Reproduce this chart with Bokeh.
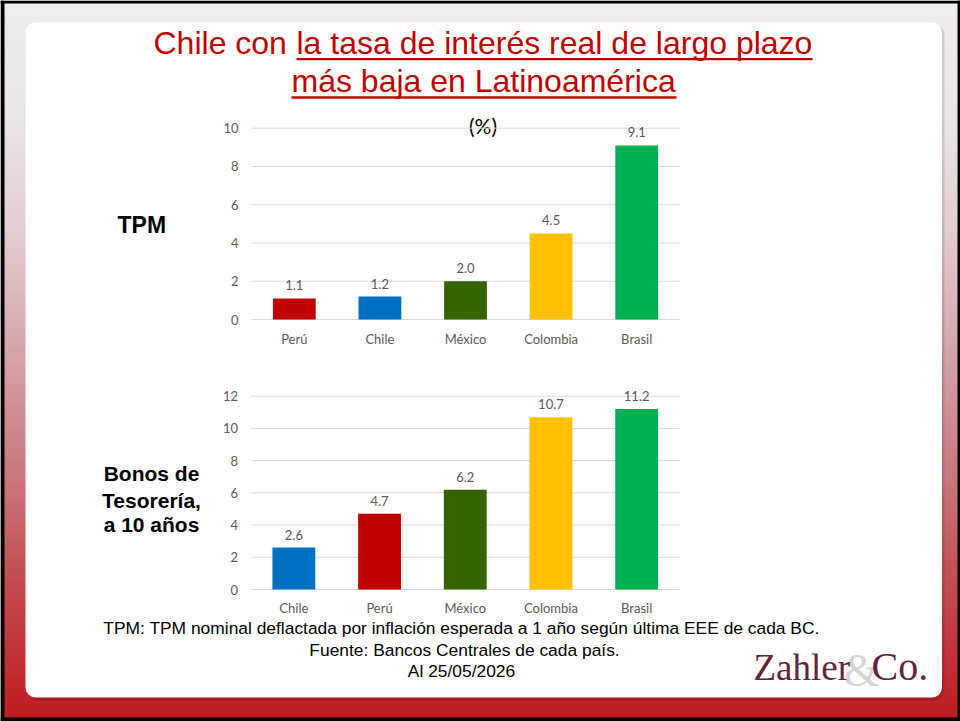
import numpy as np
from bokeh.plotting import figure
from bokeh.models import Range1d, BoxAnnotation
from bokeh.core.properties import value
from bokeh.embed import file_html
from bokeh.resources import INLINE

# ---------------- data ----------------
tpm_countries = ["Perú", "Chile", "México", "Colombia", "Brasil"]
tpm_values = [1.1, 1.2, 2.0, 4.5, 9.1]
tpm_ticks = [0, 2, 4, 6, 8, 10]

bonos_countries = ["Chile", "Perú", "México", "Colombia", "Brasil"]
bonos_values = [2.6, 4.7, 6.2, 10.7, 11.2]
bonos_ticks = [0, 2, 4, 6, 8, 10, 12]

country_colors = {
    "Perú": "#C00000",
    "Chile": "#0070C0",
    "México": "#376200",
    "Colombia": "#FFC000",
    "Brasil": "#00B050",
}

title_line1a = "Chile con"
title_line1b = "la tasa de interés real de largo plazo"
title_line2 = "más baja en Latinoamérica"
unit_label = "(%)"
tpm_label = "TPM"
bonos_label = ["Bonos de", "Tesorería,", "a 10 años"]
footnotes = [
    "TPM: TPM nominal deflactada por inflación esperada a 1 año según última EEE de cada BC.",
    "Fuente: Bancos Centrales de cada país.",
    "Al 25/05/2026",
]

# ---------------- layout (page pixels) ----------------
W, H = 960, 721


def Y(py):
    """page pixel row -> data y (upwards)"""
    return H - py


p = figure(
    width=W, height=H,
    x_range=Range1d(0, W), y_range=Range1d(0, H),
    output_backend="svg", toolbar_location=None,
    x_axis_type=None, y_axis_type=None, min_border=0,
)
p.grid.visible = False
p.outline_line_color = None
p.background_fill_color = "white"
p.border_fill_color = "white"

# background gradient (decoration)
stops_y = [0, 25, 120, 220, 320, 420, 500, 580, 650, 721]
stops_c = ["#F1EFEF", "#EFEBEB", "#ECE5E6", "#E3D0D2", "#D9B0B4", "#CE8C91",
           "#C86E74", "#C44D53", "#C2353A", "#BF1C20"]
rows = np.arange(0, H) + 0.5
rgb = np.array([[int(c[i:i + 2], 16) for i in (1, 3, 5)] for c in stops_c], dtype=float)
img = np.zeros((H, 1), dtype=np.uint32)
view = img.view(dtype=np.uint8).reshape((H, 1, 4))
for ch in range(3):
    col = np.interp(rows, stops_y, rgb[:, ch])
    view[:, 0, ch] = col[::-1].astype(np.uint8)
view[:, 0, 3] = 255
p.image_rgba(image=[img], x=0, y=0, dw=W, dh=H, level="image")

# white rounded panel with faint shadow
p.add_layout(BoxAnnotation(left=27, right=944, top=Y(24), bottom=Y(700),
                           fill_color="black", fill_alpha=0.12, line_alpha=0,
                           border_radius=10, level="underlay"))
p.add_layout(BoxAnnotation(left=25, right=941.5, top=Y(22), bottom=Y(697),
                           fill_color="white", fill_alpha=1, line_alpha=0,
                           border_radius=10, level="underlay"))
# black slide border
p.quad(left=[0, 957, 0, 0], right=[4, 960, 960, 960],
       bottom=[0, 0, Y(3), 0], top=[H, H, H, Y(717)],
       fill_color="black", line_color=None)

ARIAL = value("Liberation Sans")
LATO = value("Lato")
SERIF = value("Liberation Serif")
GRAY = "#595959"
RED = "#C00000"


def mid(baseline, size, k=0.35):
    """text centre for a wanted baseline"""
    return Y(baseline - k * size)


# ---------------- title ----------------
p.text(x=[153], y=[mid(53.5, 32)], text=[title_line1a], text_font=ARIAL, text_font_size="32px",
       text_color=RED, text_align="left", text_baseline="middle")
p.text(x=[296], y=[mid(53.5, 32)], text=[title_line1b], text_font=ARIAL, text_font_size="32px",
       text_color=RED, text_align="left", text_baseline="middle")
p.text(x=[291], y=[mid(92, 32)], text=[title_line2], text_font=ARIAL, text_font_size="32px",
       text_color=RED, text_align="left", text_baseline="middle")
p.segment(x0=[296, 291], x1=[812, 676], y0=[Y(58.7), Y(97)], y1=[Y(58.7), Y(97)],
          line_color=RED, line_width=2.3)

p.text(x=[482.5], y=[Y(125)], text=[unit_label], text_font=LATO, text_font_size="21px",
       text_color="black", text_align="center", text_baseline="middle")

# side labels
p.text(x=[117], y=[mid(232.7, 23)], text=[tpm_label], text_font=ARIAL, text_font_size="23px",
       text_font_style="bold", text_color="black", text_align="left", text_baseline="middle")
p.text(x=[151] * 3, y=[mid(480.7, 21), mid(507, 21), mid(531.7, 21)], text=bonos_label,
       text_font=ARIAL, text_font_size="21px", text_font_style="bold", text_color="black",
       text_align="center", text_baseline="middle")

# footnotes
p.text(x=[461, 464, 461], y=[mid(634, 17.4), mid(656, 17.4), mid(677, 17.4)], text=footnotes,
       text_font=ARIAL, text_font_size="17.4px", text_color="black", text_align="center",
       text_baseline="middle")

# logo
p.text(x=[843], y=[mid(686, 46)], text=["&"], text_font=SERIF, text_font_size="46px",
       text_color="#D6D4D4", text_align="left", text_baseline="middle")
p.text(x=[753], y=[mid(680, 37)], text=["Zahler"], text_font=SERIF,
       text_font_size="37px", text_color="#62243A", text_align="left", text_baseline="middle")
p.text(x=[871], y=[mid(680, 40)], text=["Co."], text_font=SERIF,
       text_font_size="40px", text_color="#62243A", text_align="left", text_baseline="middle")


# ---------------- bar charts ----------------
def bar_chart(name, countries, values, ticks, left, right, y0, ytop, cat_off):
    n = len(countries)
    step = (right - left) / n
    k = (y0 - ytop) / ticks[-1]
    p.extra_x_ranges[name + "_x"] = Range1d(-left / step - 0.5, (W - left) / step - 0.5)
    p.extra_y_ranges[name + "_y"] = Range1d((y0 - H) / k, y0 / k)
    rx, ry = name + "_x", name + "_y"
    idx = list(range(n))
    # gridlines
    p.segment(x0=[-0.5] * len(ticks), x1=[n - 0.5] * len(ticks), y0=ticks, y1=ticks,
              line_color="#D9D9D9", line_width=1, x_range_name=rx, y_range_name=ry)
    # tick labels
    p.text(x=[-0.5] * len(ticks), y=ticks, text=[str(t) for t in ticks], x_offset=-13,
           text_font=LATO, text_font_size="13px", text_color=GRAY, text_align="right",
           text_baseline="middle", x_range_name=rx, y_range_name=ry)
    # bars
    p.vbar(x=idx, top=values, bottom=0, width=0.5, fill_color=[country_colors[c] for c in countries],
           line_color=None, x_range_name=rx, y_range_name=ry)
    # value labels
    p.text(x=idx, y=values, text=[f"{v:.1f}" for v in values], y_offset=-13,
           text_font=LATO, text_font_size="13px", text_color=GRAY, text_align="center",
           text_baseline="middle", x_range_name=rx, y_range_name=ry)
    # category labels
    p.text(x=idx, y=[0] * n, text=countries, y_offset=cat_off,
           text_font=LATO, text_font_size="13px", text_color=GRAY, text_align="center",
           text_baseline="middle", x_range_name=rx, y_range_name=ry)


bar_chart("tpm", tpm_countries, tpm_values, tpm_ticks, 251, 679, 319, 127.7, 19)
bar_chart("bonos", bonos_countries, bonos_values, bonos_ticks, 250.5, 679, 589, 395.7, 18)

open("out.html", "w").write(file_html(p, INLINE))
